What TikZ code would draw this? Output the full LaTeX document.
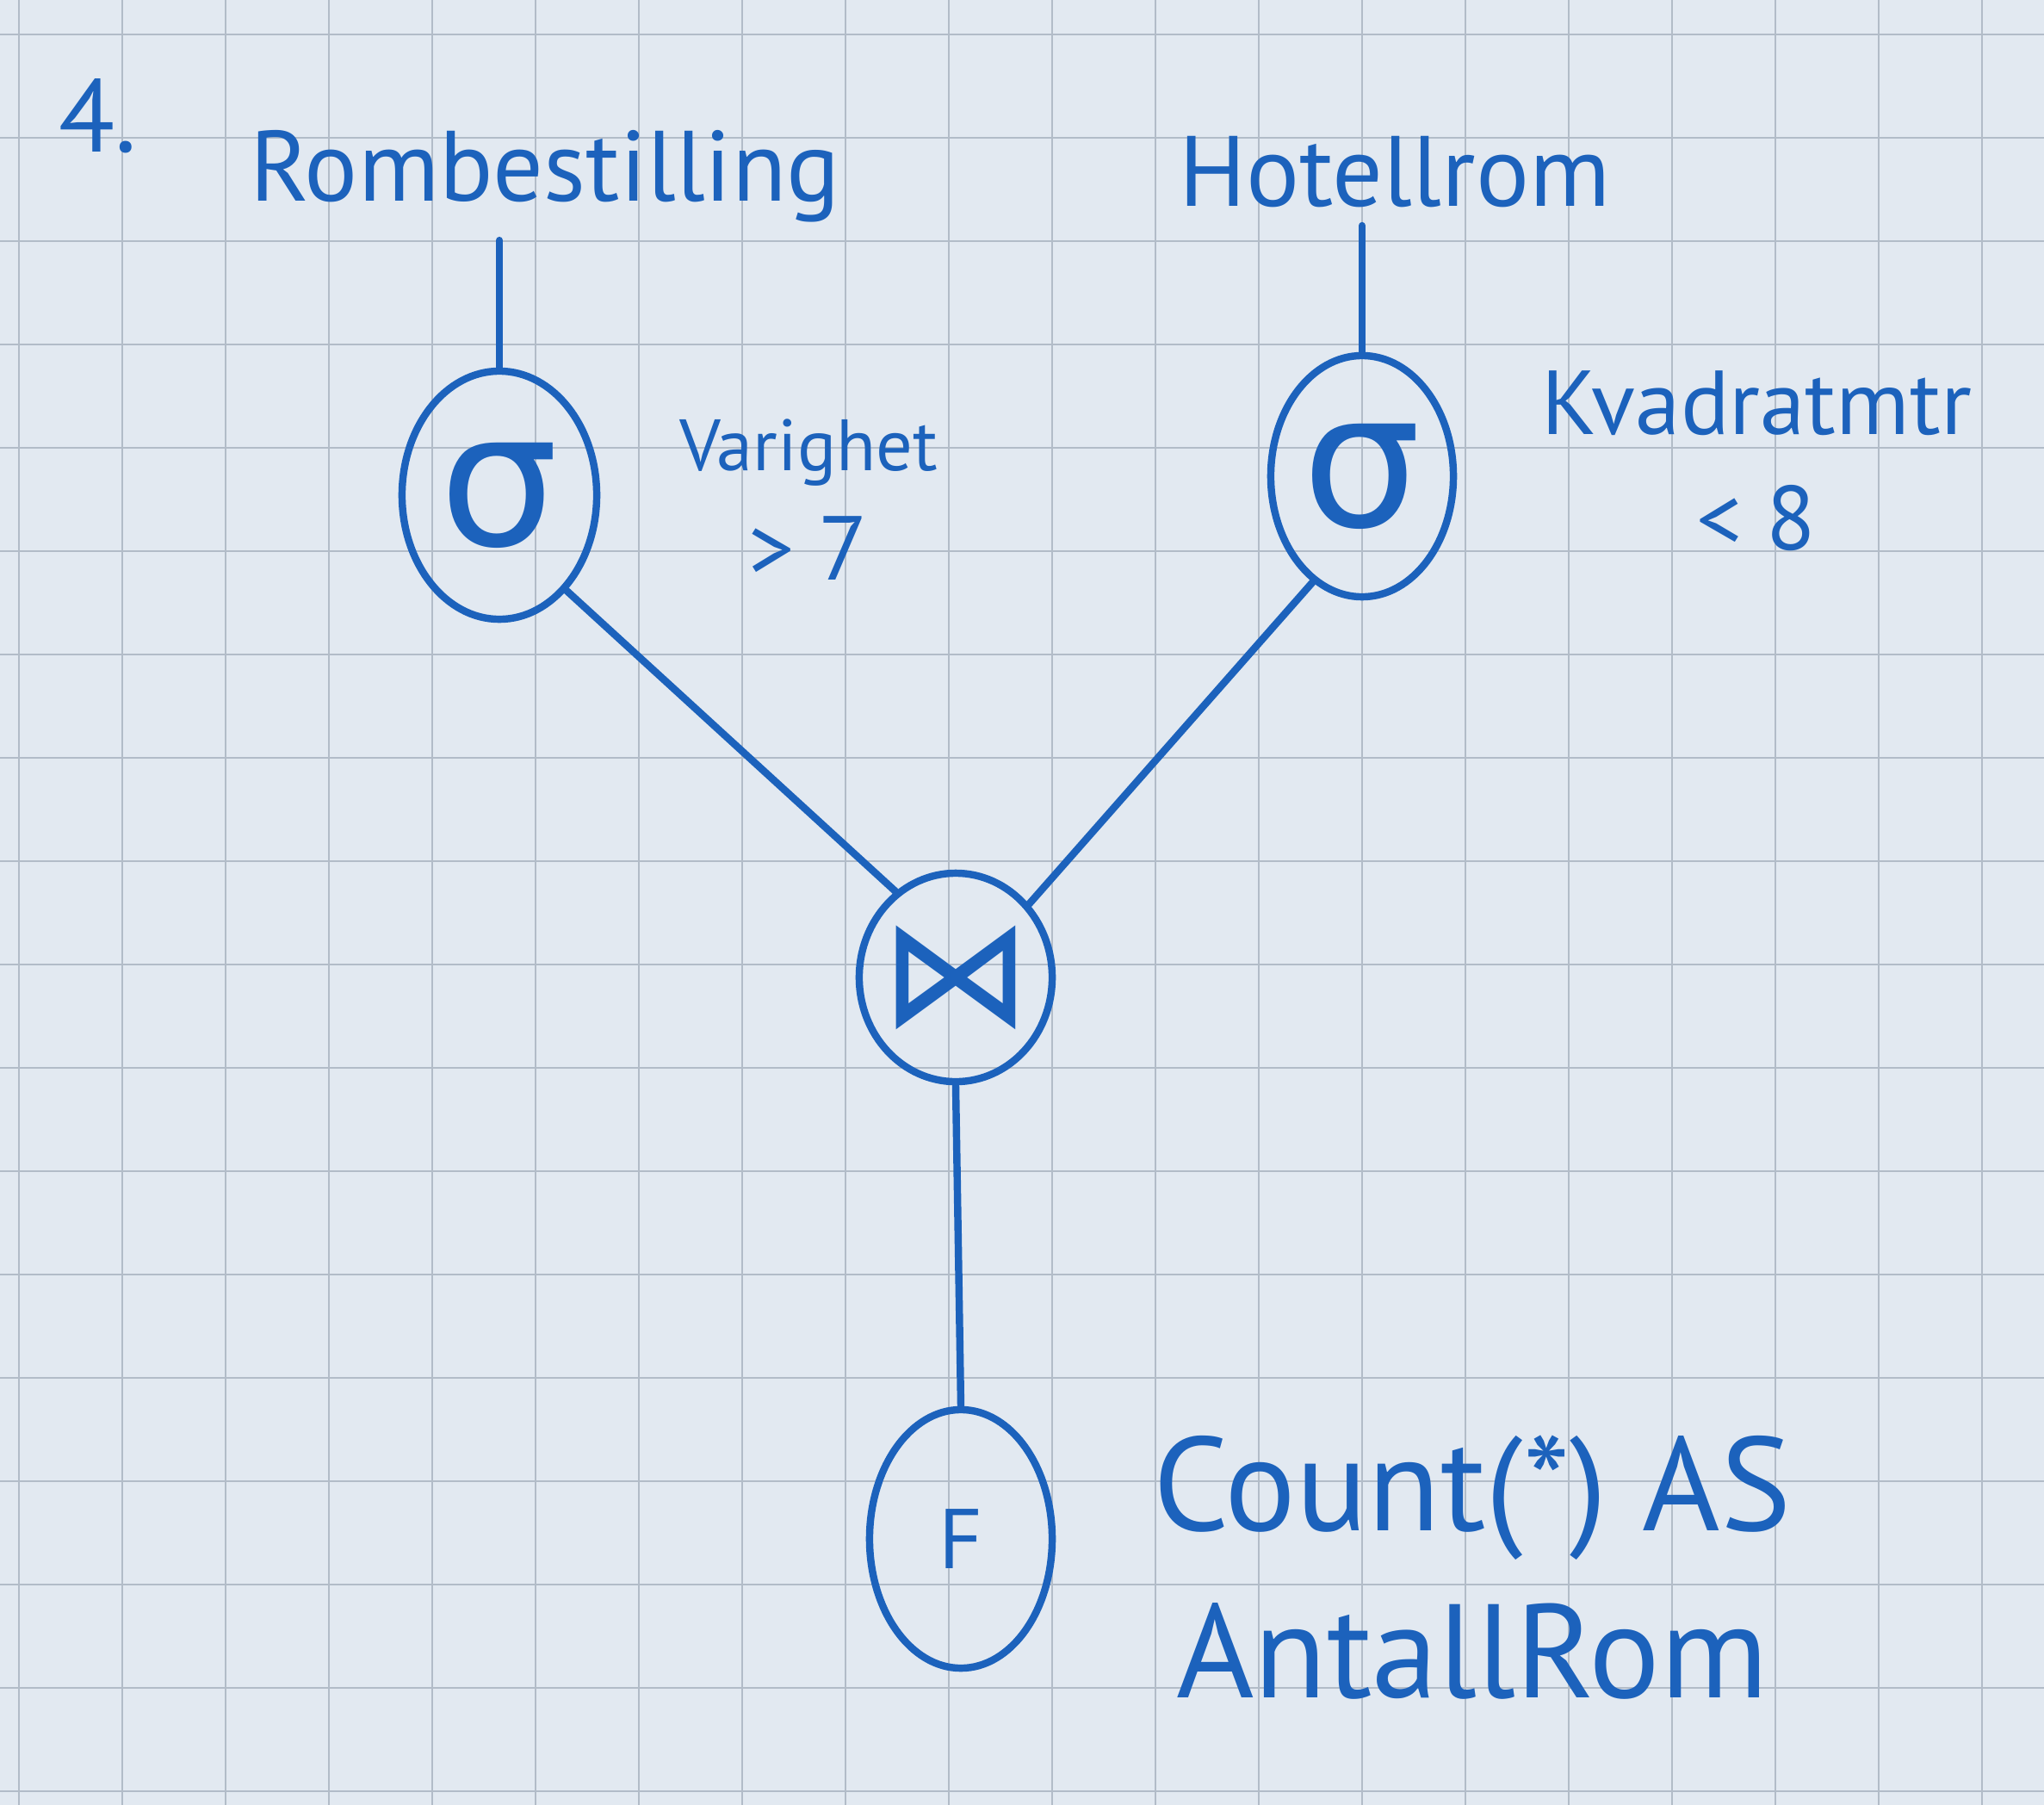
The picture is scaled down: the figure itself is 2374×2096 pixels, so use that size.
\documentclass[tikz,border=0pt]{standalone}
\usepackage{fontspec}
\setmainfont{PT Sans}
\newfontfamily\symf{DejaVu Sans}
\usetikzlibrary{shapes.geometric}
\definecolor{pen}{RGB}{28,98,188}
\definecolor{paper}{RGB}{226,233,241}
\definecolor{gridc}{RGB}{178,188,200}
\begin{document}
\begin{tikzpicture}[x=0.01cm,y=-0.01cm,
  penline/.style={draw=pen,line width=2.4pt,line cap=round},
  opnode/.style={ellipse,draw=pen,line width=2.4pt,inner sep=0pt,text=pen},
  lbl/.style={text=pen,inner sep=0pt}]
\fill[paper] (0,0) rectangle (2374,2096);
\useasboundingbox (0,0) rectangle (2374,2096);
\foreach \gx in {22,142,...,2374} \draw[gridc,line width=0.6pt] (\gx,0) -- (\gx,2096);
\foreach \gy in {40,160,...,2096} \draw[gridc,line width=0.6pt] (0,\gy) -- (2374,\gy);
% labels
\node[lbl,font=\fontsize{34}{40}\selectfont] (num) at (114,135) {4.};
\node[lbl,font=\fontsize{33}{38}\selectfont] (rb) at (633,205) {Rombestilling};
\node[lbl,font=\fontsize{33}{38}\selectfont] (ho) at (1620,200) {Hotellrom};
\node[lbl,font=\fontsize{24}{36}\selectfont,align=center] (c1) at (939,580) {Varighet\\{\fontsize{30}{36}\selectfont > 7}};
\node[lbl,font=\fontsize{30}{38}\selectfont,align=center] (c2) at (2040,535) {Kvadratmtr\\< 8};
\node[lbl,font=\fontsize{44}{55}\selectfont,align=center] (agg) at (1710,1820) {Count(*) AS\\AntallRom};
% operator nodes
\node[opnode,minimum width=2.26cm,minimum height=2.88cm,font=\symf\fontsize{62}{62}\selectfont] (s1) at (580,575) {\makebox[0pt]{σ}};
\node[opnode,minimum width=2.12cm,minimum height=2.8cm,font=\symf\fontsize{62}{62}\selectfont] (s2) at (1582,553) {\makebox[0pt]{σ}};
\node[opnode,minimum width=2.24cm,minimum height=2.42cm,font=\symf\fontsize{50}{50}\selectfont] (j) at (1110,1135) {\makebox[0pt]{⋈}};
\node[opnode,minimum width=2.12cm,minimum height=3.0cm,font=\fontsize{28}{28}\selectfont] (f) at (1116,1787) {F};
% connectors
\draw[penline] ([yshift=-0.2cm]rb.south -| s1.north) -- (s1.north);
\draw[penline] ([yshift=-0.2cm]ho.south -| s2.north) -- (s2.north);
\draw[penline] ([shift={(0.1,-0.35)}]s1.-55) -- (j.125);
\draw[penline] ([shift={(-0.1,-0.05)}]s2.-115) -- (j.45);
\draw[penline] (j.south) -- (f.north);
\end{tikzpicture}
\end{document}
